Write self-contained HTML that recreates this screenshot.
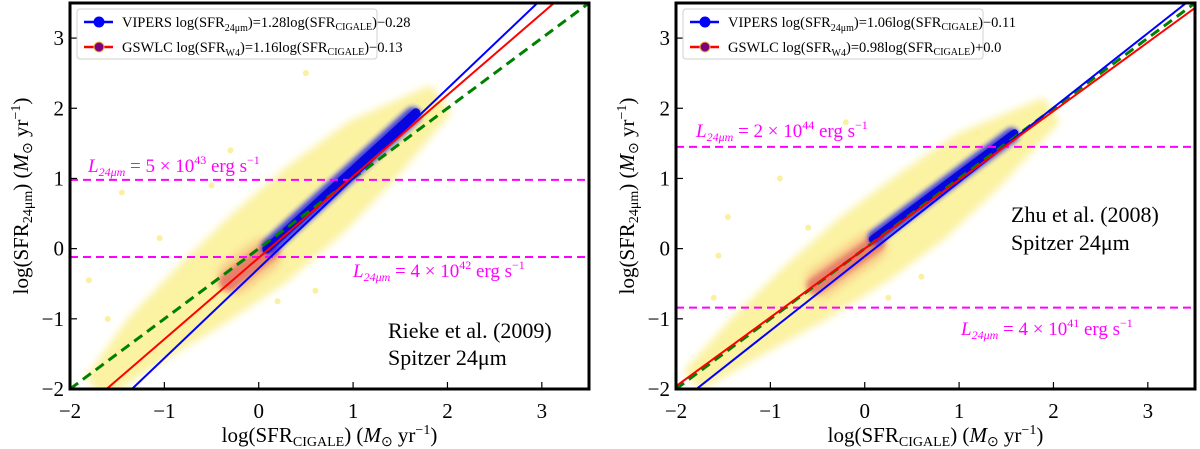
<!DOCTYPE html>
<html><head><meta charset="utf-8"><style>
html,body{margin:0;padding:0;background:#fff;}
svg{display:block;font-family:"Liberation Serif",serif;}
</style></head><body>
<svg id="fig" width="1200" height="449" viewBox="0 0 1200 449" xmlns="http://www.w3.org/2000/svg">
<defs>
<filter id="blur6" x="-50%" y="-50%" width="200%" height="200%"><feGaussianBlur stdDeviation="4"/></filter>
<filter id="blur3" x="-50%" y="-50%" width="200%" height="200%"><feGaussianBlur stdDeviation="2.5"/></filter>
<clipPath id="clipL"><rect x="70" y="3" width="519" height="386"/></clipPath>
<clipPath id="clipR"><rect x="676" y="3" width="519" height="386"/></clipPath>
</defs>
</svg>
<script>
// ---- data ----
const xTicks = [-2,-1,0,1,2,3];
const yTicks = [-2,-1,0,1,2,3];
const panelNames = ["rieke","zhu"];
const viSlope = [1.28, 1.06];
const viIntercept = [-0.28, -0.11];
const gsSlope = [1.16, 0.98];
const gsIntercept = [-0.13, 0.0];
const lumLevels = [[0.98,-0.12],[1.45,-0.84]];
const lumLabels = [["5 × 10","43"],["4 × 10","42"],["2 × 10","44"],["4 × 10","41"]];
// yellow density cloud centerline (x, y) and half-width (data units)
const cloudXL = [-1.7,-1.2,-0.6,0.0,0.6,1.2,1.9];
const cloudYL = [-1.95,-1.3,-0.65,0.0,0.7,1.4,2.1];
const cloudWL = [0.12,0.25,0.35,0.42,0.42,0.35,0.15];
const cloudXR = [-1.8,-1.2,-0.6,0.0,0.6,1.2,1.95];
const cloudYR = [-1.85,-1.2,-0.6,0.0,0.6,1.25,1.95];
const cloudWR = [0.1,0.22,0.32,0.38,0.38,0.32,0.12];
// red core: [x0,y0,x1,y1,halfWidth]
const coreL = [[-0.4,-0.55,0.2,0.05,0.1]];
const coreR = [[-0.6,-0.6,0.2,0.15,0.09]];
// blue VIPERS cloud: [x0,y0,x1,y1,halfWidth]
const blueL = [[0.05,-0.05,1.7,1.98,0.09]];
const blueR = [[0.05,0.1,1.62,1.68,0.08]];
// sparse outlier points [x,y]
const outL = [[-1.45,0.8],[-1.05,0.15],[-0.5,0.9],[-0.3,1.4],[0.5,2.5],[-1.8,-0.45],[-1.6,-1.0],[0.3,-0.3],[0.6,-0.6],[0.2,-0.75]];
const outR = [[-1.45,0.45],[-0.9,1.0],[-0.6,0.3],[0.3,3.3],[-1.55,-0.1],[-1.6,-0.7],[-0.2,1.8],[0.6,-0.4],[0.25,-0.7],[1.2,1.65]];
const legendTexts = [["log(SFR","24μm",")=1.28log(SFR","CIGALE",")−0.28"],["log(SFR","W4",")=1.16log(SFR","CIGALE",")−0.13"],
                     ["log(SFR","24μm",")=1.06log(SFR","CIGALE",")−0.11"],["log(SFR","W4",")=0.98log(SFR","CIGALE",")+0.0"]];

const NS="http://www.w3.org/2000/svg";
const svg=document.getElementById('fig');
function mk(tag,attrs,parent){const e=document.createElementNS(NS,tag);for(const k in attrs)e.setAttribute(k,attrs[k]);(parent||svg).appendChild(e);return e;}

const X0=-2,X1=3.5,Y0=-2,Y1=3.5,PW=519,TOP=3,BOT=389;
const lefts=[70,676];

lefts.forEach((L,pi)=>{
  const sx=v=>L+(v-X0)/(X1-X0)*PW;
  const sy=v=>BOT-(v-Y0)/(Y1-Y0)*(BOT-TOP);
  const unit=PW/(X1-X0);
  const g=mk('g',{'clip-path':pi?'url(#clipR)':'url(#clipL)'});
  
  
  const band=(seg,color,filt,op,nm)=>{
    const [a,b,c,d,w]=seg;
    const ux=sx(c)-sx(a), uy=sy(d)-sy(b); const len=Math.hypot(ux,uy);
    const hw=w*unit;
    const p=mk('rect',{x:-len/2,y:-hw,width:len,height:2*hw,rx:hw,ry:hw,fill:color,opacity:op,
      transform:`translate(${(sx(a)+sx(c))/2},${(sy(b)+sy(d))/2}) rotate(${Math.atan2(uy,ux)*180/Math.PI})`},g);
    if(filt)p.setAttribute('filter',filt);
    
    
  };
  // continuous yellow cloud polygon
  const cx=pi?cloudXR:cloudXL, cy=pi?cloudYR:cloudYL, cw=pi?cloudWR:cloudWL;
  const up=[],dn=[];
  for(let i=0;i<cx.length;i++){
    const i0=Math.max(0,i-1),i1=Math.min(cx.length-1,i+1);
    const dx=sx(cx[i1])-sx(cx[i0]), dy=sy(cy[i1])-sy(cy[i0]); const l=Math.hypot(dx,dy);
    const nx=-dy/l, ny=dx/l, h=cw[i]*unit;
    up.push([sx(cx[i])+nx*h, sy(cy[i])+ny*h]); dn.push([sx(cx[i])-nx*h, sy(cy[i])-ny*h]);
  }
  const pts=up.concat(dn.reverse()).map(p=>p.join(',')).join(' ');
  const cl=mk('polygon',{points:pts,fill:'#fbf2a2',filter:'url(#blur6)','stroke':'#fbf2a2','stroke-width':8,'stroke-linejoin':'round'},g);
  
  
  (pi?outR:outL).forEach(o=>{const c=mk('circle',{cx:sx(o[0]),cy:sy(o[1]),r:3,fill:'#faf0a0'},g);
    
    });
  (pi?coreR:coreL).forEach(s=>{band([s[0],s[1],s[2],s[3],s[4]*1.8],'#f8c080','url(#blur6)',0.8,'density-halo');band(s,'#e06060','url(#blur3)',0.7,'density-core');});
  (pi?blueR:blueL).forEach(s=>{band(s,'#2020e8','url(#blur3)',0.85,'vipers-points');band([s[0],s[1],s[2],s[3],s[4]*0.5],'#0000dd','',0.9,'vipers-core');});
  lumLevels[pi].forEach((v,i)=>{const l=mk('line',{x1:L,x2:L+PW,y1:sy(v),y2:sy(v),stroke:'#ff00ff','stroke-width':2,'stroke-dasharray':'8,5'},g);
    
    });
  const fit=(m,b,col,dash,w,nm)=>{const l=mk('line',{x1:sx(X0),y1:sy(m*X0+b),x2:sx(X1),y2:sy(m*X1+b),stroke:col,'stroke-width':w},g);
    if(dash)l.setAttribute('stroke-dasharray',dash);
    
    };
  fit(1,0,'#008000','10,6',3,'one-to-one-line');
  fit(viSlope[pi],viIntercept[pi],'#0000ff','',2,'vipers-fit-line');
  fit(gsSlope[pi],gsIntercept[pi],'#ff0000','',2,'gswlc-fit-line');
  xTicks.forEach(t=>{mk('line',{x1:sx(t),x2:sx(t),y1:BOT,y2:BOT-7,stroke:'#000','stroke-width':1.2});
    const tx=mk('text',{x:sx(t),y:418,'font-size':21,'text-anchor':'middle'});tx.textContent=(t<0?'−':'')+Math.abs(t);
    
    });
  yTicks.forEach(t=>{mk('line',{x1:L,x2:L+7,y1:sy(t),y2:sy(t),stroke:'#000','stroke-width':1.2});
    const tx=mk('text',{x:L-6,y:sy(t)+7,'font-size':21,'text-anchor':'end'});tx.textContent=(t<0?'−':'')+Math.abs(t);
    
    });
  const fr=mk('rect',{x:L,y:TOP,width:PW,height:BOT-TOP,fill:'none',stroke:'#000','stroke-width':3});
  
  
  const lpos=pi?[[L+20,137],[L+285,335]]:[[L+18,172],[L+283,277]];
  lpos.forEach((p,i)=>{const t=mk('text',{x:p[0],y:p[1],'font-size':19,fill:'#ff00ff'});
    const lab=lumLabels[pi*2+i];
    t.innerHTML=`<tspan font-style="italic">L</tspan><tspan font-size="12" font-style="italic" dy="4">24μm</tspan><tspan dy="-4"> = ${lab[0]}</tspan><tspan font-size="12" dy="-8">${lab[1]}</tspan><tspan dy="8"> erg s</tspan><tspan font-size="12" dy="-8">−1</tspan>`;
    
    });
  const cal=pi?[[L+335,222,'Zhu et al. (2008)'],[L+335,250,'Spitzer 24μm']]:[[L+318,338,'Rieke et al. (2009)'],[L+318,365,'Spitzer 24μm']];
  cal.forEach(c=>{const t=mk('text',{x:c[0],y:c[1],'font-size':22});t.textContent=c[2];
    
    });
  const lg=mk('g',{});
  
  
  mk('rect',{x:L+7,y:9,width:300,height:50,rx:3,fill:'#fff',stroke:'#ccc','stroke-width':1,opacity:0.9},lg);
  [['VIPERS','#0000ff','#0000ff'],['GSWLC','#ff0000','#800080']].forEach((e,i)=>{
    const y=22+i*25;
    const eg=mk('g',{},lg);
    
    
    mk('line',{x1:L+14,x2:L+43,y1:y,y2:y,stroke:e[1],'stroke-width':2.5},eg);
    mk('circle',{cx:L+29,cy:y,r:5,fill:e[2],stroke:i?'#e8c040':e[2],'stroke-width':1},eg);
    const lt=legendTexts[pi*2+i];
    const t=mk('text',{x:L+52,y:y+5,'font-size':14.5},eg);
    t.innerHTML=`${e[0]} ${lt[0]}<tspan font-size="10" dy="4">${lt[1]}</tspan><tspan dy="-4">${lt[2]}</tspan><tspan font-size="10" dy="3">${lt[3]}</tspan><tspan dy="-3">${lt[4]}</tspan>`;
  });
  const xt=mk('text',{x:L+PW/2,y:442,'font-size':21,'text-anchor':'middle'});
  xt.innerHTML='log(SFR<tspan font-size="14" dy="4">CIGALE</tspan><tspan dy="-4">) (</tspan><tspan font-style="italic">M</tspan><tspan font-size="14" dy="4">⊙</tspan><tspan dy="-4"> yr</tspan><tspan font-size="14" dy="-8">−1</tspan><tspan dy="8">)</tspan>';
  
  
  const yx=L-42, yy=196;
  const yt=mk('text',{x:yx,y:yy,'font-size':21,'text-anchor':'middle',transform:`rotate(-90 ${yx} ${yy})`});
  yt.innerHTML='log(SFR<tspan font-size="14" dy="4">24μm</tspan><tspan dy="-4">) (</tspan><tspan font-style="italic">M</tspan><tspan font-size="14" dy="4">⊙</tspan><tspan dy="-4"> yr</tspan><tspan font-size="14" dy="-8">−1</tspan><tspan dy="8">)</tspan>';
  
  
});
</script>
</body></html>
